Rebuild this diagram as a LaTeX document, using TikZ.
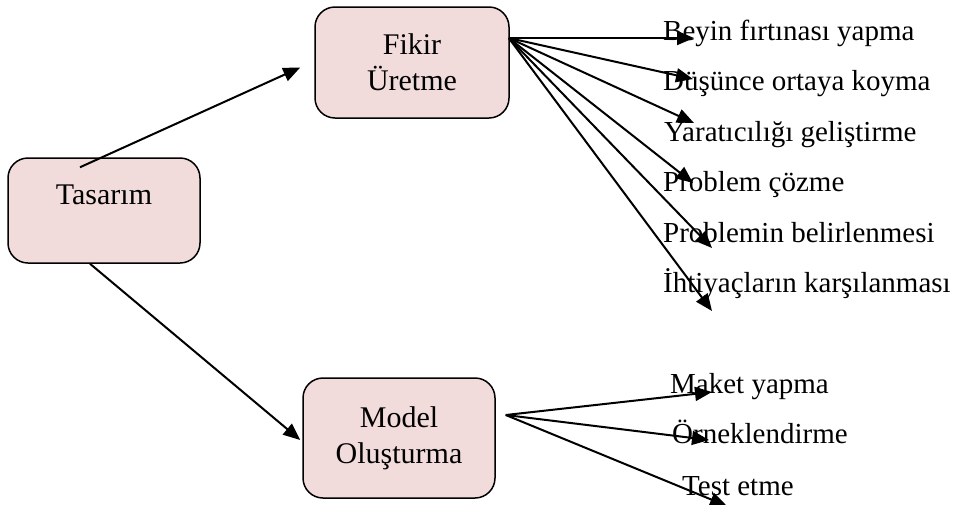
\documentclass[tikz,border=0pt]{standalone}
\usepackage{fontspec}
\setmainfont{Liberation Serif}
\usetikzlibrary{arrows.meta}
\definecolor{boxfill}{HTML}{F2DCDB}
\begin{document}
\begin{tikzpicture}[x=1pt,y=-1pt,
  box/.style={draw=black, line width=1.5pt, fill=boxfill, rounded corners=20pt,
    align=center, font=\fontsize{30}{36}\selectfont, inner sep=0pt},
  item/.style={anchor=base west, inner sep=0pt, font=\fontsize{29}{34}\selectfont},
  link/.style={line width=2pt, -{Triangle[length=17pt,width=14pt]}}]
\useasboundingbox (0,0) rectangle (956,504);

% main boxes
\node[box, minimum width=192pt, minimum height=105pt, text height=20pt, text depth=32pt]
  (tas) at (104,210.5) {Tasarım};
\node[box, minimum width=194pt, minimum height=111pt] (fik) at (412,62.5) {Fikir\\Üretme};
\node[box, minimum width=192pt, minimum height=120pt] (mod) at (399,438) {Model\\Oluşturma};

% branch labels
\node[item] (b1) at (663,40)  {Beyin fırtınası yapma};
\node[item] (b2) at (663,90.5) {Düşünce ortaya koyma};
\node[item] (b3) at (664,141) {Yaratıcılığı geliştirme};
\node[item] (b4) at (663,191) {Problem çözme};
\node[item] (b5) at (663,242) {Problemin belirlenmesi};
\node[item] (b6) at (663,292) {İhtiyaçların karşılanması};

\node[item] (m1) at (670,393) {Maket yapma};
\node[item] (m2) at (672,443) {Örneklendirme};
\node[item] (m3) at (682,495) {Test etme};

% arrow tips of the fans
\coordinate (t1) at (694,38);
\coordinate (t2) at (693,79);
\coordinate (t3) at (694,123);
\coordinate (t4) at (693,183);
\coordinate (t5) at (712,248);
\coordinate (t6) at (712,311);
\coordinate (u1) at (712,392);
\coordinate (u2) at (709,440);
\coordinate (u3) at (727,506);

% Tasarım to its two steps
\draw[link] ([shift={(-24,10)}]tas.north) -- ([shift={(-14,5)}]fik.west);
\draw[link] ([shift={(-14,0)}]tas.south) -- ([shift={(-2,2)}]mod.west);

% fan out of Fikir Üretme
\coordinate (fo) at ([shift={(-1,-24.5)}]fik.east);
\foreach \t in {t1,t2,t3,t4,t5,t6} \draw[link] (fo) -- (\t);

% fan out of Model Oluşturma
\coordinate (mo) at ([shift={(10,-23)}]mod.east);
\foreach \t in {u1,u2,u3} \draw[link] (mo) -- (\t);
\end{tikzpicture}
\end{document}
